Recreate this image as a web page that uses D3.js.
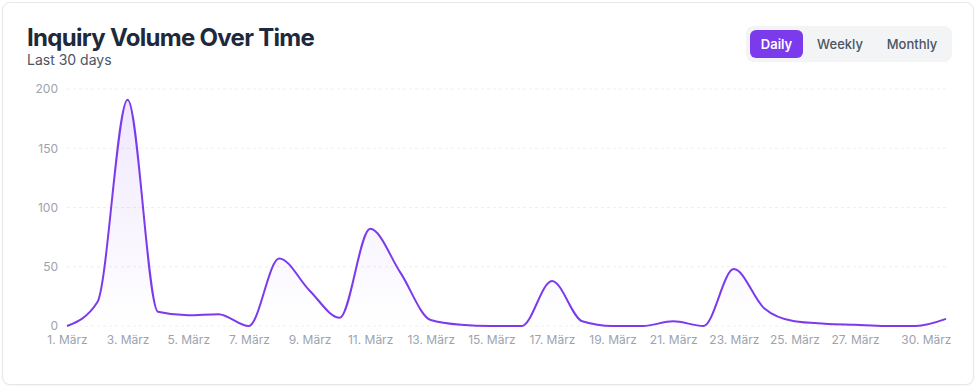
<!doctype html>
<html lang="en">
<head>
<meta charset="UTF-8" />
<title>Inquiry Volume Over Time</title>
<script src="https://d3js.org/d3.v7.min.js"></script>
<style>
    body, html {
        margin: 0;
        padding: 0;
        background: #ffffff;
        font-family: Inter, "Noto Sans", sans-serif;
        overflow: hidden;
    }
    .card {
        position: absolute;
        left: 2px;
        top: 2px;
        width: 972px;
        height: 383px;
        border: 1px solid #e5e7eb;
        border-radius: 8px;
        background: #fff;
        box-shadow: 0 1px 2px rgba(0, 0, 0, 0.04);
        box-sizing: border-box;
    }
    svg { position: absolute; left: 0; top: 0; }
</style>
</head>
<body>
<div class="card"></div>
<svg id="chart" width="978" height="387"></svg>
<script>
    // daily inquiry counts for March
    const days = d3.range(1, 31).map(d => `${d}. März`);
    const inquiries = [0, 20, 191, 12, 9, 10, 0, 57, 30, 7,
                       82, 45, 5, 1, 0, 0, 38, 4, 0, 0,
                       4, 0, 48, 15, 4, 2, 1, 0, 0, 6];
    const yTicks = [0, 50, 100, 150, 200];
    const xTickLabels = ["1. März", "3. März", "5. März", "7. März", "9. März", "11. März",
                         "13. März", "15. März", "17. März", "19. März", "21. März",
                         "23. März", "25. März", "27. März", "30. März"];
    const ranges = ["Daily", "Weekly", "Monthly"];

    const svg = d3.select("#chart");
    const purple = "#7c3aed";

    const x = d3.scalePoint().domain(days).range([67, 946]);
    const y = d3.scaleLinear().domain([0, 200]).range([326, 89]);

    // title
    svg.append("text")
        .attr("x", 27).attr("y", 46)
        .attr("font-size", 24).attr("font-weight", 700)
        .attr("fill", "#1e293b")
        .attr("letter-spacing", "-0.7")
        .text("Inquiry Volume Over Time");
    svg.append("text")
        .attr("x", 27).attr("y", 65)
        .attr("font-size", 14)
        .attr("fill", "#4b5563")
        .text("Last 30 days");

    // range toggle
    const toggle = svg.append("g");
    toggle.append("rect")
        .attr("x", 746).attr("y", 26).attr("width", 206).attr("height", 36)
        .attr("rx", 8).attr("fill", "#f3f4f6");
    const btnX = [750, 805, 873];
    const btnW = [53, 70, 78];
    ranges.forEach((r, i) => {
        if (i === 0) {
            toggle.append("rect")
                .attr("x", btnX[i]).attr("y", 30).attr("width", btnW[i]).attr("height", 28)
                .attr("rx", 6).attr("fill", purple);
        }
        toggle.append("text")
            .attr("x", btnX[i] + btnW[i] / 2).attr("y", 48.5)
            .attr("text-anchor", "middle")
            .attr("font-size", 13).attr("font-weight", i === 0 ? 600 : 500)
            .attr("fill", i === 0 ? "#fff" : "#4b5563")
            .text(r);
    });

    // grid
    svg.append("g")
        .selectAll("line")
        .data(yTicks)
        .join("line")
        .attr("x1", 67).attr("x2", 946)
        .attr("y1", d => y(d)).attr("y2", d => y(d))
        .attr("stroke", "#eceef1")
        .attr("stroke-dasharray", "3 3");

    // axes
    const yAxis = svg.append("g")
        .attr("transform", "translate(67,0)")
        .call(d3.axisLeft(y).tickValues(yTicks).tickSize(0).tickPadding(9));
    const xAxis = svg.append("g")
        .attr("transform", "translate(0,327)")
        .call(d3.axisBottom(x).tickValues(xTickLabels).tickSize(0).tickPadding(8));
    [xAxis, yAxis].forEach(a => {
        a.select(".domain").remove();
        a.selectAll("text")
            .attr("font-family", "Inter, sans-serif")
            .attr("font-size", 12)
            .attr("fill", "#9ca3af");
    });
    // keep the last label inside the card
    xAxis.selectAll(".tick text")
        .filter(d => d === xTickLabels[xTickLabels.length - 1])
        .attr("text-anchor", "end")
        .attr("dx", 5);

    // gradient fill
    const grad = svg.append("defs").append("linearGradient")
        .attr("id", "fade").attr("x1", 0).attr("y1", 0).attr("x2", 0).attr("y2", 1);
    grad.append("stop").attr("offset", "0%").attr("stop-color", purple).attr("stop-opacity", 0.12);
    grad.append("stop").attr("offset", "100%").attr("stop-color", purple).attr("stop-opacity", 0);

    const area = d3.area()
        .x((d, i) => x(days[i]))
        .y0(y(0))
        .y1(d => y(d))
        .curve(d3.curveMonotoneX);
    const line = d3.line()
        .x((d, i) => x(days[i]))
        .y(d => y(d))
        .curve(d3.curveMonotoneX);

    svg.append("path")
        .datum(inquiries)
        .attr("d", area)
        .attr("fill", "url(#fade)");
    svg.append("path")
        .datum(inquiries)
        .attr("d", line)
        .attr("fill", "none")
        .attr("stroke", purple)
        .attr("stroke-width", 2);
</script>
</body>
</html>
